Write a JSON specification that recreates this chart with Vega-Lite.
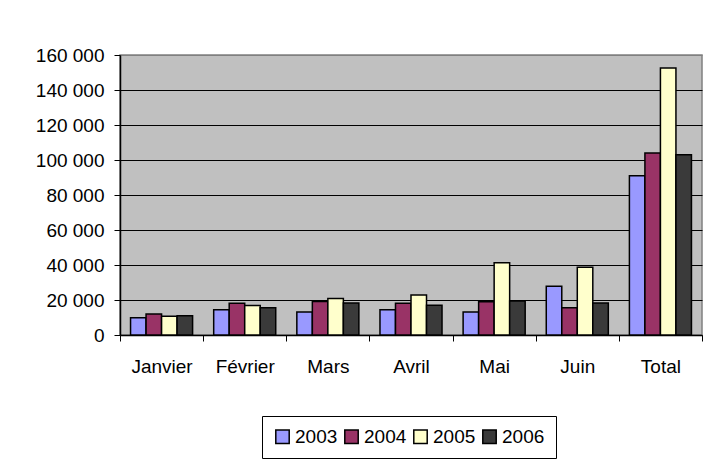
{
  "$schema": "https://vega.github.io/schema/vega-lite/v6.json",
  "autosize": {"type": "none"},
  "width": 582,
  "height": 280,
  "padding": {"left": 120, "top": 55, "right": 10, "bottom": 130},
  "background": "white",
  "config": {
    "locale": {"number": {"decimal": ",", "thousands": " ", "grouping": [3], "currency": ["", " €"]}},
    "font": "Liberation Sans",
    "view": {"fill": "#C0C0C0", "stroke": "#808080", "strokeWidth": 1.5}
  },
  "data": {
    "values": [
      {"mois": "Janvier", "annee": "2003", "valeur": 9800},
      {"mois": "Janvier", "annee": "2004", "valeur": 12000},
      {"mois": "Janvier", "annee": "2005", "valeur": 10700},
      {"mois": "Janvier", "annee": "2006", "valeur": 11000},
      {"mois": "Février", "annee": "2003", "valeur": 14500},
      {"mois": "Février", "annee": "2004", "valeur": 18100},
      {"mois": "Février", "annee": "2005", "valeur": 16800},
      {"mois": "Février", "annee": "2006", "valeur": 15600},
      {"mois": "Mars", "annee": "2003", "valeur": 13100},
      {"mois": "Mars", "annee": "2004", "valeur": 19200},
      {"mois": "Mars", "annee": "2005", "valeur": 20800},
      {"mois": "Mars", "annee": "2006", "valeur": 18300},
      {"mois": "Avril", "annee": "2003", "valeur": 14500},
      {"mois": "Avril", "annee": "2004", "valeur": 18100},
      {"mois": "Avril", "annee": "2005", "valeur": 22900},
      {"mois": "Avril", "annee": "2006", "valeur": 17000},
      {"mois": "Mai", "annee": "2003", "valeur": 13100},
      {"mois": "Mai", "annee": "2004", "valeur": 19000},
      {"mois": "Mai", "annee": "2005", "valeur": 41300},
      {"mois": "Mai", "annee": "2006", "valeur": 19400},
      {"mois": "Juin", "annee": "2003", "valeur": 27800},
      {"mois": "Juin", "annee": "2004", "valeur": 15600},
      {"mois": "Juin", "annee": "2005", "valeur": 38700},
      {"mois": "Juin", "annee": "2006", "valeur": 18300},
      {"mois": "Total", "annee": "2003", "valeur": 91000},
      {"mois": "Total", "annee": "2004", "valeur": 104000},
      {"mois": "Total", "annee": "2005", "valeur": 152600},
      {"mois": "Total", "annee": "2006", "valeur": 103000}
    ]
  },
  "mark": {"type": "bar", "stroke": "black", "strokeWidth": 1.5},
  "encoding": {
    "x": {
      "field": "mois", "type": "nominal",
      "sort": ["Janvier", "Février", "Mars", "Avril", "Mai", "Juin", "Total"],
      "scale": {"paddingInner": 0, "paddingOuter": 0},
      "axis": {
        "title": null, "labelAngle": 0, "labelFontSize": 19, "labelColor": "black",
        "domainColor": "black", "domainWidth": 1.5, "tickColor": "black", "tickSize": 6,
        "tickBand": "extent", "labelPadding": 16
      }
    },
    "xOffset": {
      "field": "annee", "type": "nominal",
      "scale": {"paddingInner": 0, "paddingOuter": 0.68}
    },
    "y": {
      "field": "valeur", "type": "quantitative",
      "scale": {"domain": [0, 160000], "nice": false},
      "axis": {
        "title": null, "values": [0, 20000, 40000, 60000, 80000, 100000, 120000, 140000, 160000],
        "format": ",d", "labelFontSize": 19, "labelColor": "black",
        "domainColor": "black", "domainWidth": 1.5, "tickColor": "black", "tickSize": 6, "labelPadding": 10,
        "grid": true, "gridWidth": 1.2,
        "gridColor": {"condition": {"test": "datum.value === 160000", "value": "#808080"}, "value": "black"}
      }
    },
    "color": {
      "field": "annee", "type": "nominal",
      "scale": {"domain": ["2003", "2004", "2005", "2006"], "range": ["#9999FF", "#993366", "#FFFFCC", "#3a3a3a"]},
      "legend": {
        "title": null, "orient": "none", "direction": "horizontal", "legendX": 142, "legendY": 361,
        "strokeColor": "black", "fillColor": "white", "padding": 11,
        "symbolType": "square", "symbolSize": 180, "symbolStrokeColor": "black", "symbolStrokeWidth": 1.5,
        "symbolOpacity": 1, "labelFontSize": 19, "labelColor": "black", "labelOffset": 3, "columnPadding": 3
      }
    }
  }
}
